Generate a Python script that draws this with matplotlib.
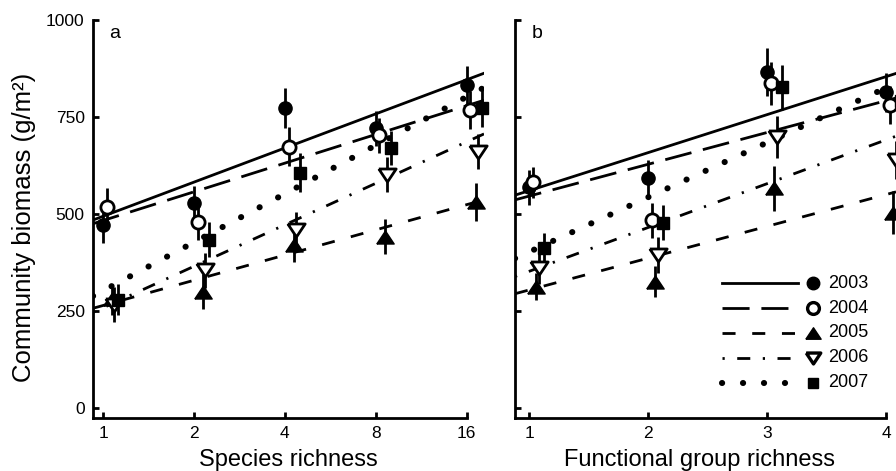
import numpy as np
import matplotlib
matplotlib.use("Agg")
import matplotlib.pyplot as plt
from matplotlib.lines import Line2D

plt.rcParams['font.family'] = ['Liberation Sans', 'DejaVu Sans']
plt.rcParams['lines.scale_dashes'] = False

# ---------------- data ----------------
years = ['2003', '2004', '2005', '2006', '2007']

# panel a: species richness
species = [1, 2, 4, 8, 16]
a_2003 = [472, 528, 773, 721, 832]
a_2004 = [518, 479, 673, 703, 768]
a_2005 = [280, 299, 421, 441, 531]
a_2006 = [266, 355, 459, 601, 660]
a_2007 = [279, 433, 606, 670, 773]
a_err_2003 = [46, 45, 52, 45, 50]
a_err_2004 = [50, 45, 50, 45, 50]
a_err_2005 = [40, 45, 45, 45, 50]
a_err_2006 = [45, 45, 45, 45, 45]
a_err_2007 = [40, 45, 50, 45, 50]
# regression lines panel a: value at richness 1, slope per doubling
a_intercept = [494, 483, 264, 258, 302]
a_slope = [88, 74, 65, 107, 125]

# panel b: functional group richness
groups = [1, 2, 3, 4]
b_2003 = [569, 593, 866, 814]
b_2004 = [582, 484, 837, 781]
b_2005 = [312, 325, 566, 503]
b_2006 = [360, 394, 698, 639]
b_2007 = [412, 477, 827, 790]
b_err_2003 = [45, 45, 62, 50]
b_err_2004 = [40, 45, 55, 50]
b_err_2005 = [35, 40, 58, 55]
b_err_2006 = [40, 46, 55, 50]
b_err_2007 = [38, 45, 58, 50]
# regression lines panel b: value at richness 1, slope per group
b_intercept = [560, 546, 304, 352, 402]
b_slope = [98, 82, 82, 113, 141]

yticks = [0, 250, 500, 750, 1000]
a_xticklabels = ['1', '2', '4', '8', '16']
b_xticklabels = ['1', '2', '3', '4']

a_vals = [a_2003, a_2004, a_2005, a_2006, a_2007]
a_errs = [a_err_2003, a_err_2004, a_err_2005, a_err_2006, a_err_2007]
b_vals = [b_2003, b_2004, b_2005, b_2006, b_2007]
b_errs = [b_err_2003, b_err_2004, b_err_2005, b_err_2006, b_err_2007]

# ---------------- styles ----------------
tri_up = [(-1, -0.75), (1, -0.75), (0, 0.75), (-1, -0.75)]
tri_dn = [(-1, 0.75), (1, 0.75), (0, -0.75), (-1, 0.75)]
mstyles = [
    dict(marker='o', ms=9.5, mfc='black', mec='black', mew=1.0),
    dict(marker='o', ms=9.5, mfc='white', mec='black', mew=2.0),
    dict(marker=tri_up, ms=12.5, mfc='black', mec='black', mew=1.0),
    dict(marker=tri_dn, ms=12.5, mfc='white', mec='black', mew=2.0),
    dict(marker='s', ms=8, mfc='black', mec='black', mew=1.0),
]
lstyles = [
    dict(ls='-', lw=2.0),
    dict(ls=(0, (19.5, 8.5)), lw=2.0),
    dict(ls=(0, (9.4, 12.0)), lw=2.0),
    dict(ls=(0, (1.6, 9.0, 9.4, 9.0)), lw=2.0),
    dict(ls=(0, (0.1, 15.0)), lw=4.4, dash_capstyle='round'),
]
a_off = [0, 0.04, 0.10, 0.12, 0.17]    # dodge in log2 units
b_off = [0, 0.034, 0.06, 0.084, 0.126]  # dodge in group units

W, H = 896, 471
fig = plt.figure(figsize=(W / 100, H / 100), dpi=100)
axA = fig.add_axes([93 / W, 1 - 418 / H, 391 / W, 398 / H])
axB = fig.add_axes([515 / W, 1 - 418 / H, 381 / W, 398 / H])

a_xlo, a_xhi = 2 ** -0.11, 2 ** 4.19
b_xlo, b_xhi = 0.882, 4.084

# panel a
axA.set_xscale('log', base=2)
for i in range(5):
    xs = np.array([a_xlo, a_xhi])
    axA.plot(xs, a_intercept[i] + a_slope[i] * np.log2(xs), color='black',
             zorder=2, **lstyles[i])
    xp = np.array(species) * 2 ** a_off[i]
    axA.errorbar(xp, a_vals[i], yerr=a_errs[i], fmt='none', ecolor='black',
                 elinewidth=2.0, capsize=0, zorder=3, clip_on=False)
    axA.plot(xp, a_vals[i], ls='none', zorder=4, clip_on=False, **mstyles[i])

# panel b
for i in range(5):
    xs = np.array([b_xlo, b_xhi])
    axB.plot(xs, b_intercept[i] + b_slope[i] * (xs - 1), color='black',
             zorder=2, **lstyles[i])
    xp = np.array(groups) + b_off[i]
    axB.errorbar(xp, b_vals[i], yerr=b_errs[i], fmt='none', ecolor='black',
                 elinewidth=2.0, capsize=0, zorder=3, clip_on=False)
    axB.plot(xp, b_vals[i], ls='none', zorder=4, clip_on=False, **mstyles[i])

for ax in (axA, axB):
    ax.set_ylim(-26, 1000)
    ax.set_yticks(yticks)
    for s in ('top', 'right'):
        ax.spines[s].set_visible(False)
    for s in ('left', 'bottom'):
        ax.spines[s].set_linewidth(2.0)
    ax.tick_params(direction='in', length=4, width=2.0, labelsize=12.5, pad=6)

axA.set_xlim(a_xlo, a_xhi)
axA.set_xticks(species)
axA.set_xticklabels(a_xticklabels)
axA.xaxis.set_minor_locator(matplotlib.ticker.NullLocator())
axA.spines['bottom'].set_bounds(a_xlo, 16)
axA.set_yticklabels([str(t) for t in yticks])

axB.set_xlim(b_xlo, b_xhi)
axB.set_xticks(groups)
axB.set_xticklabels(b_xticklabels)
axB.spines['bottom'].set_bounds(b_xlo, 4)
axB.set_yticklabels([])

axA.set_xlabel('Species richness', fontsize=17)
axB.set_xlabel('Functional group richness', fontsize=17)
axA.xaxis.set_label_coords(0.5, -0.078)
axB.xaxis.set_label_coords((700 - 515) / 381, -0.078)
axA.set_ylabel('Community biomass (g/m²)', fontsize=18.5)
axA.yaxis.set_label_coords(-0.145, 0.48)

axA.text(0.056, 0.967, 'a', transform=axA.transAxes, fontsize=14,
         ha='center', va='center')
axB.text(0.058, 0.967, 'b', transform=axB.transAxes, fontsize=14,
         ha='center', va='center')

# legend drawn in panel b
rows_y = [0.339, 0.276, 0.214, 0.151, 0.088]
leg_mstyles = [
    dict(marker='o', ms=9, mfc='black', mec='black', mew=1.0),
    dict(marker='o', ms=8.5, mfc='white', mec='black', mew=2.4),
    dict(marker=tri_up, ms=11, mfc='black', mec='black', mew=1.0),
    dict(marker=tri_dn, ms=10.5, mfc='white', mec='black', mew=2.4),
    dict(marker='s', ms=7.5, mfc='black', mec='black', mew=1.0),
]
for i, yr in enumerate(years):
    y = rows_y[i]
    axB.add_line(Line2D([0.543, 0.743], [y, y], transform=axB.transAxes,
                        color='black', **lstyles[i]))
    axB.add_line(Line2D([0.782], [y], transform=axB.transAxes, ls='none',
                        **leg_mstyles[i]))
    axB.text(0.822, y, yr, transform=axB.transAxes, fontsize=13,
             ha='left', va='center')

fig.savefig('out.png', dpi=100)
